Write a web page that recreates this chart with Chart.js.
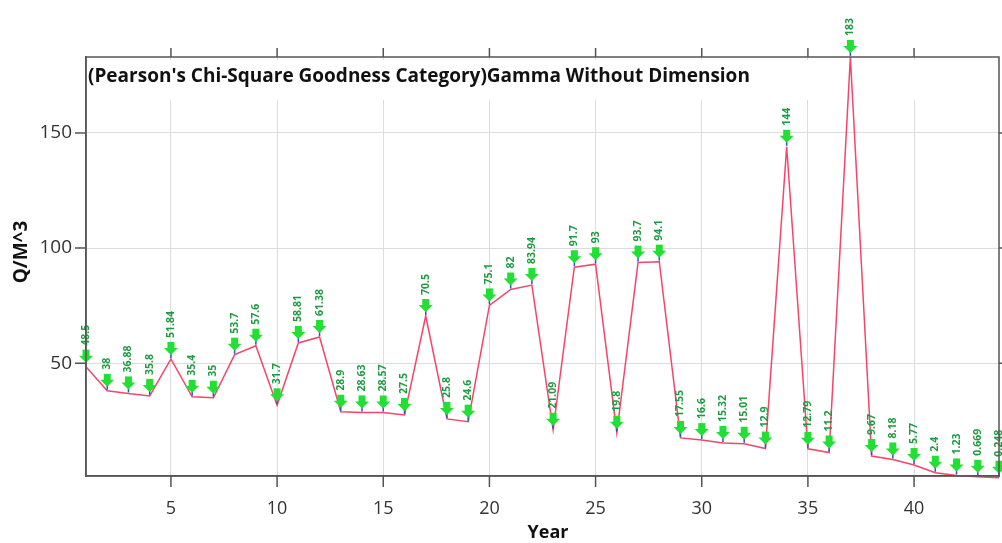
<!DOCTYPE html>
<html>
<head>
<meta charset="utf-8">
<script src="https://cdn.jsdelivr.net/npm/chart.js@4"></script>
<style>
  html, body { margin: 0; padding: 0; background: #fff; }
  #wrap { width: 1002px; height: 543px; }
</style>
</head>
<body>
<div id="wrap"><canvas id="chart"></canvas></div>
<script>
// data
const years = [];
for (let i = 1; i <= 44; i++) years.push(i);
const flows = [48.5, 38, 36.88, 35.8, 51.84, 35.4, 35, 53.7, 57.6, 31.7,
               58.81, 61.38, 28.9, 28.63, 28.57, 27.5, 70.5, 25.8, 24.6, 75.1,
               82, 83.94, 21.09, 91.7, 93, 19.8, 93.7, 94.1, 17.55, 16.6,
               15.32, 15.01, 12.9, 144, 12.79, 11.2, 183, 9.67, 8.18, 5.77,
               2.4, 1.23, 0.669, 0.248];
const xTicks = [5, 10, 15, 20, 25, 30, 35, 40];
const yTicks = [50, 100, 150];
const chartTitle = "(Pearson's Chi-Square Goodness Category)Gamma Without Dimension";

// white band behind title, frame, tick marks and axis titles
const decor = {
    id: 'decor',
    beforeDatasetsDraw(chart) {
        const { ctx, chartArea: a } = chart;
        ctx.save();
        ctx.fillStyle = '#fff';
        ctx.fillRect(a.left + 1, a.top + 3, a.right - a.left - 2, 40);
        ctx.fillStyle = '#111';
        ctx.font = 'bold 19px "Open Sans"';
        ctx.textBaseline = 'middle';
        ctx.fillText(chartTitle, a.left + 2, a.top + 20);
        ctx.restore();
    },
    afterDraw(chart) {
        const { ctx, chartArea: a, scales } = chart;
        ctx.save();
        ctx.strokeStyle = '#555';
        ctx.lineWidth = 1.5;
        ctx.strokeRect(a.left, a.top, a.right - a.left, a.bottom - a.top);
        ctx.beginPath();
        xTicks.forEach(t => {
            const x = scales.x.getPixelForValue(t);
            ctx.moveTo(x, a.top);
            ctx.lineTo(x, a.top - 9);
            ctx.moveTo(x, a.bottom);
            ctx.lineTo(x, a.bottom + 11);
        });
        yTicks.forEach(t => {
            const y = scales.y.getPixelForValue(t);
            ctx.moveTo(a.right, y);
            ctx.lineTo(a.right + 6, y);
            ctx.moveTo(a.left, y);
            ctx.lineTo(a.left - 11, y);
        });
        ctx.stroke();

        ctx.fillStyle = '#111';
        ctx.font = 'bold 18px "Open Sans"';
        ctx.textAlign = 'center';
        ctx.textBaseline = 'middle';
        ctx.fillText('Year', 548, 533);
        ctx.translate(22, 252);
        ctx.rotate(-Math.PI / 2);
        ctx.font = 'bold 19px "Open Sans"';
        ctx.fillText('Q/M^3', 0, 0);
        ctx.restore();
    }
};

// green pin markers and rotated value labels
const pins = {
    id: 'pins',
    afterDatasetsDraw(chart) {
        const { ctx } = chart;
        const meta = chart.getDatasetMeta(0);
        ctx.save();
        meta.data.forEach((pt, i) => {
            const px = pt.x, py = pt.y;
            // blue tip
            ctx.strokeStyle = '#3050d0';
            ctx.lineWidth = 1.5;
            ctx.beginPath();
            ctx.moveTo(px, py - 9);
            ctx.lineTo(px, py - 1);
            ctx.stroke();
            // green head
            ctx.fillStyle = '#22e033';
            ctx.fillRect(px - 3.5, py - 17, 7, 7);
            ctx.beginPath();
            ctx.moveTo(px - 7, py - 11);
            ctx.lineTo(px + 7, py - 11);
            ctx.lineTo(px, py - 4);
            ctx.closePath();
            ctx.fill();
            // label
            ctx.translate(px, py - 21);
            ctx.rotate(-Math.PI / 2);
            ctx.fillStyle = '#1e9a40';
            ctx.font = 'bold 10.5px "Open Sans"';
            ctx.textAlign = 'left';
            ctx.textBaseline = 'middle';
            ctx.fillText(String(flows[i]), 0, 0);
            ctx.setTransform(1, 0, 0, 1, 0, 0);
        });
        ctx.restore();
    }
};

new Chart(document.getElementById('chart'), {
    type: 'line',
    data: {
        datasets: [{
            data: years.map((y, i) => ({ x: y, y: flows[i] })),
            borderColor: '#f4466a',
            borderWidth: 1.5,
            pointRadius: 0,
            tension: 0,
            clip: false
        }]
    },
    options: {
        responsive: true,
        maintainAspectRatio: false,
        animation: false,
        devicePixelRatio: 1,
        layout: { padding: { top: 57, right: 3, left: 0, bottom: 0 } },
        plugins: { legend: { display: false }, tooltip: { enabled: false } },
        scales: {
            x: {
                type: 'linear',
                min: 1,
                max: 44,
                afterBuildTicks: s => { s.ticks = xTicks.map(v => ({ value: v })); },
                afterFit: s => { s.height = 67; },
                grid: { color: '#dcdcdc', drawTicks: false },
                border: { color: '#555', width: 1.5 },
                ticks: { color: '#333', font: { family: 'Open Sans', size: 18 }, padding: 22 }
            },
            y: {
                min: 1,
                max: 183,
                afterBuildTicks: s => { s.ticks = yTicks.map(v => ({ value: v })); },
                afterFit: s => { s.width = 86; },
                grid: { color: '#dcdcdc', drawTicks: false },
                border: { color: '#555', width: 1.5 },
                ticks: { color: '#333', font: { family: 'Open Sans', size: 19 }, padding: 14 }
            }
        }
    },
    plugins: [decor, pins]
});
</script>
</body>
</html>
